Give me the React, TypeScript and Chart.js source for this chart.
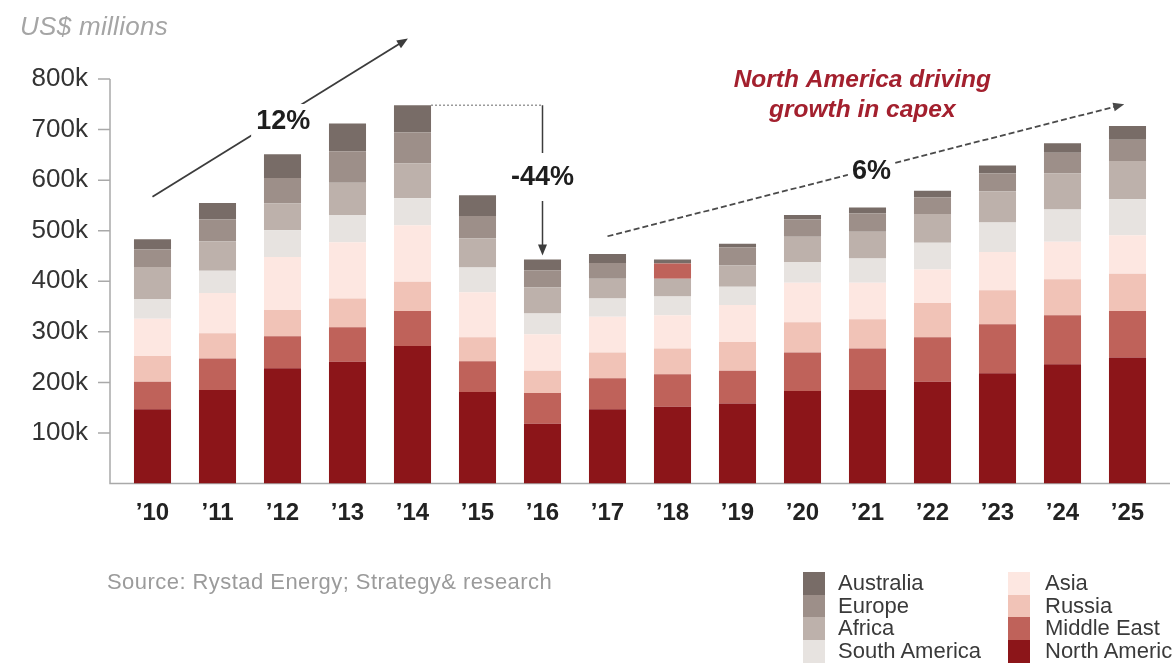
import React, { useEffect, useRef } from 'react';
import { Chart, registerables } from 'chart.js';

Chart.register(...registerables);

// ---------- data (US$ millions) ----------
const YEARS = ['’10', '’11', '’12', '’13', '’14', '’15', '’16', '’17', '’18', '’19', '’20', '’21', '’22', '’23', '’24', '’25'];
const NORTH_AMERICA = [147000, 185000, 228000, 241000, 272000, 181000, 118000, 147000, 152000, 158000, 183000, 185000, 201000, 218000, 236000, 249000];
const MIDDLE_EAST = [54000, 62000, 63000, 68000, 69000, 61000, 61000, 61000, 64000, 65000, 76000, 82000, 88000, 97000, 97000, 92000];
const RUSSIA = [51000, 50000, 52000, 57000, 58000, 47000, 44000, 51000, 51000, 57000, 60000, 58000, 68000, 67000, 71000, 74000];
const ASIA = [74000, 80000, 105000, 111000, 112000, 89000, 72000, 71000, 66000, 73000, 78000, 72000, 66000, 76000, 74000, 76000];
const SOUTH_AMERICA = [39000, 44000, 53000, 54000, 53000, 49000, 41000, 36000, 37000, 36000, 41000, 48000, 53000, 58000, 64000, 71000];
const AFRICA = [63000, 58000, 53000, 64000, 69000, 58000, 52000, 39000, 35000, 42000, 50000, 53000, 57000, 62000, 71000, 76000];
const EUROPE = [35000, 43000, 50000, 62000, 61000, 44000, 34000, 31000, 30000, 36000, 34000, 36000, 33000, 35000, 41000, 42000];
const AUSTRALIA = [20000, 33000, 47000, 55000, 54000, 41000, 21000, 18000, 8000, 7000, 9000, 12000, 13000, 16000, 19000, 27000];

const Y_MAX = 800000;
const Y_STEP = 100000;

// annotations (data coordinates: category index, value)
const CAGR_EARLY = { label: '12%', from: [0, 567000], to: [3.93, 880000], text: [2.01, 715000] };
const DROP = { label: '-44%', fromIndex: 4, toIndex: 6, text: [6, 606000] };
const CAGR_LATE = { label: '6%', from: [7, 489000], to: [14.95, 750000], text: [11.06, 616000] };
const NOTE_LINES = ['North America driving', 'growth in capex'];
const NOTE_POS = [[10.92, 797000], [10.92, 738000]];

// ---------- styles ----------
const FONT = '"Liberation Sans", Arial, Helvetica, sans-serif';
const C = {
  na: '#8c1519',
  me: '#bf625a',
  ru: '#f1c3b7',
  as: '#fde7e1',
  sa: '#e7e3e0',
  af: '#bdb1ab',
  eu: '#9d8f89',
  au: '#786c67',
};

const SERIES = [
  { label: 'North America', data: NORTH_AMERICA, color: C.na },
  { label: 'Middle East', data: MIDDLE_EAST, color: C.me },
  { label: 'Russia', data: RUSSIA, color: C.ru },
  { label: 'Asia', data: ASIA, color: C.as },
  { label: 'South America', data: SOUTH_AMERICA, color: C.sa },
  { label: 'Africa', data: AFRICA, color: C.af },
  { label: 'Europe', data: EUROPE, color: C.eu },
  { label: 'Australia', data: AUSTRALIA, color: C.au },
];

const TOTALS = YEARS.map((_, i) => SERIES.reduce((s, d) => s + d.data[i], 0));

function arrowHead(ctx: CanvasRenderingContext2D, x1: number, y1: number, x2: number, y2: number, len = 11, half = 4.5) {
  const a = Math.atan2(y2 - y1, x2 - x1);
  ctx.beginPath();
  ctx.moveTo(x2, y2);
  ctx.lineTo(x2 - len * Math.cos(a) + half * Math.sin(a), y2 - len * Math.sin(a) - half * Math.cos(a));
  ctx.lineTo(x2 - len * Math.cos(a) - half * Math.sin(a), y2 - len * Math.sin(a) + half * Math.cos(a));
  ctx.closePath();
  ctx.fill();
}

function lineWithGap(
  ctx: CanvasRenderingContext2D, W: number, H: number,
  x1: number, y1: number, x2: number, y2: number,
  gap: { x: number; y: number; w: number; h: number } | null,
  dash: number[], color: string, width: number, head: boolean,
) {
  ctx.save();
  if (gap) {
    ctx.beginPath();
    ctx.rect(0, 0, W, H);
    ctx.rect(gap.x, gap.y, gap.w, gap.h);
    ctx.clip('evenodd');
  }
  const a = Math.atan2(y2 - y1, x2 - x1);
  const ex = head ? x2 - 8 * Math.cos(a) : x2;
  const ey = head ? y2 - 8 * Math.sin(a) : y2;
  ctx.strokeStyle = color;
  ctx.lineWidth = width;
  ctx.setLineDash(dash);
  ctx.beginPath();
  ctx.moveTo(x1, y1);
  ctx.lineTo(ex, ey);
  ctx.stroke();
  ctx.setLineDash([]);
  if (head) {
    ctx.fillStyle = color;
    arrowHead(ctx, x1, y1, x2, y2);
  }
  ctx.restore();
}

const axesPlugin = {
  id: 'customAxes',
  beforeDatasetsDraw(chart: any) {
    const { ctx, chartArea } = chart;
    const y = chart.scales.y;
    const ax = chartArea.left - 10;
    const y0 = y.getPixelForValue(0);
    ctx.save();
    ctx.strokeStyle = '#a9a9a9';
    ctx.lineWidth = 1.5;
    ctx.beginPath();
    ctx.moveTo(ax, y.getPixelForValue(Y_MAX));
    ctx.lineTo(ax, y0);
    ctx.lineTo(chartArea.right + 10, y0);
    y.ticks.forEach((t: any) => {
      if (t.value > 0) {
        const py = y.getPixelForValue(t.value);
        ctx.moveTo(ax - 12, py);
        ctx.lineTo(ax, py);
      }
    });
    ctx.stroke();
    ctx.restore();
  },
};

const annotationPlugin = {
  id: 'annotations',
  afterDatasetsDraw(chart: any) {
    const { ctx, width: W, height: H } = chart;
    const x = chart.scales.x;
    const y = chart.scales.y;
    const px = (i: number) => x.getPixelForValue(i);
    const py = (v: number) => y.getPixelForValue(v);

    const pctFont = `bold 27px ${FONT}`;
    const textBox = (label: string, cx: number, cy: number, padX = 5, padY = 4) => {
      ctx.font = pctFont;
      const w = ctx.measureText(label).width;
      return { x: cx - w / 2 - padX, y: cy - 14 - padY, w: w + 2 * padX, h: 28 + 2 * padY };
    };
    const drawLabel = (label: string, cx: number, cy: number) => {
      ctx.save();
      ctx.font = pctFont;
      ctx.fillStyle = '#1e1e1e';
      ctx.textAlign = 'center';
      ctx.textBaseline = 'middle';
      ctx.fillText(label, cx, cy);
      ctx.restore();
    };

    // 12% arrow
    {
      const tx = px(CAGR_EARLY.text[0]);
      const ty = py(CAGR_EARLY.text[1]);
      lineWithGap(ctx, W, H, px(CAGR_EARLY.from[0]), py(CAGR_EARLY.from[1]), px(CAGR_EARLY.to[0]), py(CAGR_EARLY.to[1]),
        textBox(CAGR_EARLY.label, tx, ty), [], '#3c3c3c', 1.8, true);
      drawLabel(CAGR_EARLY.label, tx, ty);
    }

    // -44% drop
    {
      const meta = chart.getDatasetMeta(SERIES.length - 1);
      const bar = meta.data[DROP.fromIndex];
      const startX = bar.x + bar.width / 2;
      const topY = py(TOTALS[DROP.fromIndex]);
      const endX = px(DROP.toIndex);
      const endY = py(TOTALS[DROP.toIndex]) - 4;
      ctx.save();
      ctx.strokeStyle = '#9a9a9a';
      ctx.lineWidth = 1.5;
      ctx.setLineDash([2, 2]);
      ctx.beginPath();
      ctx.moveTo(startX, topY);
      ctx.lineTo(endX, topY);
      ctx.stroke();
      ctx.restore();
      const tx = px(DROP.text[0]);
      const ty = py(DROP.text[1]);
      lineWithGap(ctx, W, H, endX, topY, endX, endY, textBox(DROP.label, tx, ty, 4, 10), [], '#3c3c3c', 1.5, true);
      drawLabel(DROP.label, tx, ty);
    }

    // 6% arrow
    {
      const tx = px(CAGR_LATE.text[0]);
      const ty = py(CAGR_LATE.text[1]);
      lineWithGap(ctx, W, H, px(CAGR_LATE.from[0]), py(CAGR_LATE.from[1]), px(CAGR_LATE.to[0]), py(CAGR_LATE.to[1]),
        textBox(CAGR_LATE.label, tx, ty, 4, 4), [6, 3], '#4a4a4a', 1.8, true);
      drawLabel(CAGR_LATE.label, tx, ty);
    }

    // red note
    ctx.save();
    ctx.font = `italic bold 24.5px ${FONT}`;
    ctx.fillStyle = '#a3202e';
    ctx.textAlign = 'center';
    ctx.textBaseline = 'middle';
    NOTE_LINES.forEach((line, i) => ctx.fillText(line, px(NOTE_POS[i][0]), py(NOTE_POS[i][1])));
    ctx.restore();
  },
};

export default function App() {
  const ref = useRef<HTMLCanvasElement>(null);

  useEffect(() => {
    document.body.style.margin = '0';
    const canvas = ref.current;
    if (!canvas) return;
    const chart = new Chart(canvas, {
      type: 'bar',
      data: {
        labels: YEARS,
        datasets: SERIES.map((s) => ({
          label: s.label,
          data: s.data,
          backgroundColor:
            s.label === 'Europe'
              ? (c: any) => (c.dataIndex === 8 ? C.me : s.color)
              : s.color,
          borderWidth: 0,
          barPercentage: 0.57,
          categoryPercentage: 1,
        })),
      },
      options: {
        animation: false,
        responsive: false,
        devicePixelRatio: 1,
        layout: { padding: { top: 79, right: 13, left: 0, bottom: 0 } },
        plugins: {
          legend: { display: false },
          tooltip: { enabled: false },
        },
        scales: {
          x: {
            stacked: true,
            grid: { display: false, drawTicks: false },
            border: { display: false },
            ticks: {
              color: '#222',
              font: { family: FONT, size: 24, weight: 'bold' },
              padding: 15,
              maxRotation: 0,
              autoSkip: false,
            },
            afterFit: (s: any) => { s.height = 180.5; },
          },
          y: {
            stacked: true,
            min: 0,
            max: Y_MAX,
            grid: { display: false, drawTicks: false },
            border: { display: false },
            ticks: {
              stepSize: Y_STEP,
              color: '#333',
              font: { family: FONT, size: 26 },
              padding: 32,
              callback: (v: any) => (Number(v) === 0 ? '' : `${Number(v) / 1000}k`),
            },
            afterFit: (s: any) => { s.width = 120; },
          },
        },
      },
      plugins: [axesPlugin, annotationPlugin],
    } as any);
    return () => chart.destroy();
  }, []);

  const legendCols = [SERIES.slice(4).reverse(), SERIES.slice(0, 4).reverse()];
  const colBox = [803, 1008];
  const colText = [838, 1045];
  const rowH = 22.7;
  const legendTop = 572;

  return (
    <div style={{ position: 'relative', width: 1173, height: 664, overflow: 'hidden', background: '#fff', fontFamily: FONT }}>
      <canvas ref={ref} width={1173} height={664} style={{ position: 'absolute', left: 0, top: 0, width: 1173, height: 664 }} />
      <div style={{ position: 'absolute', left: 20, top: 13, fontSize: 26, lineHeight: '26px', fontStyle: 'italic', color: '#a5a5a5', whiteSpace: 'nowrap', letterSpacing: '0.3px' }}>
        US$ millions
      </div>
      <div style={{ position: 'absolute', left: 107, top: 571, fontSize: 22, lineHeight: '22px', color: '#9b9b9b', whiteSpace: 'nowrap', letterSpacing: '0.45px' }}>
        Source: Rystad Energy; Strategy&amp; research
      </div>
      {legendCols.map((col, ci) =>
        col.map((s, ri) => (
          <React.Fragment key={s.label}>
            <div style={{ position: 'absolute', left: colBox[ci], top: legendTop + ri * rowH, width: 22, height: rowH + 0.5, background: s.color }} />
            <div style={{ position: 'absolute', left: colText[ci], top: legendTop + ri * rowH, fontSize: 22, lineHeight: `${rowH}px`, color: '#3a3a3a', whiteSpace: 'nowrap' }}>
              {s.label}
            </div>
          </React.Fragment>
        )),
      )}
    </div>
  );
}
